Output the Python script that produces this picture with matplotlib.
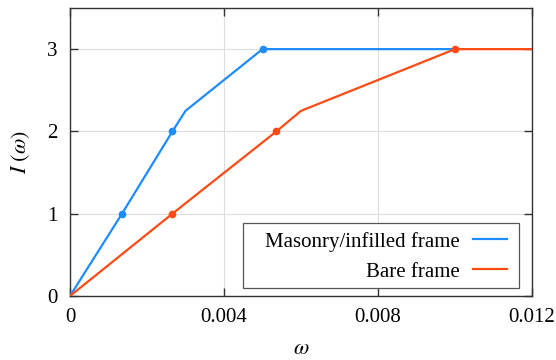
import matplotlib
matplotlib.use("Agg")
import matplotlib.pyplot as plt
from matplotlib.patches import Rectangle

plt.rcParams['font.family'] = ['Liberation Serif', 'DejaVu Serif']
plt.rcParams['mathtext.fontset'] = 'stix'

# data
masonry_x = [0, 0.00135, 0.00266, 0.003, 0.005, 0.01]
masonry_y = [0, 1, 2, 2.25, 3, 3]
masonry_pts_x = [0.00135, 0.00266, 0.005]
masonry_pts_y = [1, 2, 3]

bare_x = [0, 0.00266, 0.00536, 0.006, 0.01, 0.012]
bare_y = [0, 1, 2, 2.25, 3, 3]
bare_pts_x = [0.00266, 0.00536, 0.01]
bare_pts_y = [1, 2, 3]

xticks = [0, 0.004, 0.008, 0.012]
xticklabels = ["0", "0.004", "0.008", "0.012"]
yticks = [0, 1, 2, 3]

blue = '#1E8CFF'
orange = '#FF4A14'

fig = plt.figure(figsize=(5.56, 3.6), dpi=100)
ax = fig.add_axes([70/556, 64/360, 462/556, 288/360])

ax.plot(masonry_x, masonry_y, color=blue, lw=1.6, label='Masonry/infilled frame', zorder=3)
ax.plot(masonry_pts_x, masonry_pts_y, 'o', color=blue, ms=4.5, zorder=3)
ax.plot(bare_x, bare_y, color=orange, lw=1.6, label='Bare frame', zorder=4)
ax.plot(bare_pts_x, bare_pts_y, 'o', color=orange, ms=4.5, zorder=4)

ax.set_xlim(0, 0.012)
ax.set_ylim(0, 3.5)
ax.set_xticks(xticks)
ax.set_xticklabels(xticklabels)
ax.set_yticks(yticks)
ax.grid(True, color='#dddddd', lw=0.8)
ax.tick_params(direction='in', top=True, right=True, length=6, width=1.0,
               labelsize=15, colors='#333333', labelcolor='black')
ax.tick_params(axis='x', pad=9)
ax.tick_params(axis='y', pad=9)
for s in ax.spines.values():
    s.set_color('#333333')
    s.set_linewidth(1.0)

ax.set_xlabel(r'$\omega$', fontsize=16, labelpad=9)
ax.set_ylabel(r'$I\ (\omega)$', fontsize=16, labelpad=11)

# legend frame
ax.add_patch(Rectangle((0.3745, 0.0278), 0.9719 - 0.3745, 0.2535 - 0.0278,
                       transform=ax.transAxes, facecolor='white',
                       edgecolor='#555555', lw=0.9, zorder=5))

leg = ax.legend(loc='lower right', bbox_to_anchor=(0.946, 0.05),
                markerfirst=False, fontsize=15, frameon=False,
                handlelength=1.65, handletextpad=0.6, borderaxespad=0,
                borderpad=0, labelspacing=0.5)
leg.set_zorder(6)

fig.savefig('out.png', dpi=100)
